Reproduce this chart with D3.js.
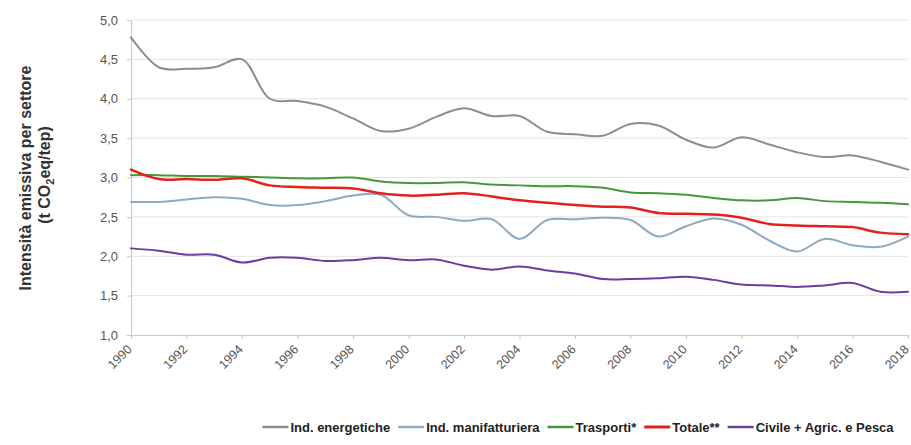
<!DOCTYPE html>
<html><head><meta charset="utf-8">
<script src="https://cdn.jsdelivr.net/npm/d3@7"></script>
<style>body{margin:0;background:#fff;} svg{display:block;font-family:"Liberation Sans",Arial,sans-serif;}</style>
</head><body><svg id="c" width="911" height="445"></svg>
<script>
const years = d3.range(1990, 2019);
const xTickYears = d3.range(1990, 2019, 2);
const yTicks = [1.0,1.5,2.0,2.5,3.0,3.5,4.0,4.5,5.0];
const energetiche = [4.78,4.40,4.38,4.40,4.50,4.00,3.97,3.90,3.75,3.59,3.62,3.77,3.88,3.78,3.78,3.58,3.55,3.53,3.68,3.66,3.48,3.38,3.51,3.42,3.32,3.26,3.28,3.20,3.10];
const manifatturiera = [2.69,2.69,2.72,2.75,2.73,2.65,2.65,2.70,2.77,2.78,2.52,2.50,2.45,2.47,2.22,2.46,2.47,2.49,2.46,2.25,2.38,2.48,2.40,2.20,2.06,2.22,2.14,2.12,2.25];
const trasporti = [3.03,3.03,3.02,3.02,3.01,3.00,2.99,2.99,3.00,2.95,2.93,2.93,2.94,2.91,2.90,2.89,2.89,2.87,2.81,2.80,2.78,2.74,2.71,2.71,2.74,2.70,2.69,2.68,2.66];
const totale = [3.10,2.98,2.98,2.97,2.99,2.90,2.88,2.87,2.86,2.80,2.77,2.78,2.80,2.76,2.71,2.68,2.65,2.63,2.62,2.55,2.54,2.53,2.49,2.41,2.39,2.38,2.37,2.30,2.28];
const civile = [2.10,2.07,2.02,2.02,1.92,1.98,1.98,1.94,1.95,1.98,1.95,1.96,1.88,1.83,1.87,1.82,1.78,1.71,1.71,1.72,1.74,1.70,1.64,1.63,1.61,1.63,1.66,1.55,1.55];
const seriesNames = ["Ind. energetiche","Ind. manifatturiera","Trasporti*","Totale**","Civile + Agric. e Pesca"];
const seriesData = [energetiche, manifatturiera, trasporti, totale, civile];
const colors = ["#8e8e8e","#8eaac0","#45993a","#e3221f","#6a3f9c"];
const widths = [2,2,2,2.5,2];

const svg = d3.select("#c");
const x = d3.scaleLinear().domain([1990,2018]).range([131,908]);
const y = d3.scaleLinear().domain([1,5]).range([335,20]);

// gridlines
svg.append("g").selectAll("line").data(yTicks.slice(1)).join("line")
  .attr("x1",131).attr("x2",908).attr("y1",d=>y(d)).attr("y2",d=>y(d))
  .attr("stroke","#e4e4e4").attr("stroke-width",1);

// y axis
const ya = svg.append("g").attr("transform","translate(131,0)")
  .call(d3.axisLeft(y).tickValues(yTicks).tickSize(4).tickPadding(9).tickFormat(d=>d3.format(".1f")(d).replace(".",",")));
ya.select(".domain").attr("stroke","#c8c8c8");
ya.selectAll(".tick line").attr("stroke","#c8c8c8");
ya.selectAll("text").attr("fill","#555").style("font-size","13px");

// x axis
const xa = svg.append("g").attr("transform","translate(0,335)")
  .call(d3.axisBottom(x).tickValues(xTickYears).tickSize(4).tickFormat(d3.format("d")));
xa.select(".domain").attr("stroke","#c8c8c8");
xa.selectAll(".tick line").attr("stroke","#c8c8c8");
xa.selectAll("text").attr("fill","#555").style("font-size","12.5px")
  .attr("x",0).attr("y",0).attr("dy","0.35em")
  .attr("text-anchor","end")
  .attr("transform","translate(-2,12) rotate(-45)");

// lines
const line = d3.line().x((d,i)=>x(years[i])).y(d=>y(d)).curve(d3.curveCatmullRom.alpha(0.5));
svg.append("g").selectAll("path").data(seriesData).join("path")
  .attr("d",d=>line(d)).attr("fill","none")
  .attr("stroke",(d,i)=>colors[i]).attr("stroke-width",(d,i)=>widths[i])
  .attr("stroke-linejoin","round").attr("stroke-linecap","round");

// y title
const t = svg.append("text").attr("transform","translate(31,178) rotate(-90)")
  .attr("text-anchor","middle").attr("fill","#333").style("font-weight","bold").style("font-size","16px");
t.append("tspan").attr("x",0).attr("dy",0).text("Intensità emissiva per settore");
const t2 = svg.append("text").attr("transform","translate(50,175) rotate(-90)")
  .attr("text-anchor","middle").attr("fill","#333").style("font-weight","bold").style("font-size","16px");
t2.append("tspan").text("(t CO");
t2.append("tspan").attr("dy",4).style("font-size","11px").text("2");
t2.append("tspan").attr("dy",-4).text("eq/tep)");

// legend
const lg = svg.append("g").attr("transform","translate(0,427)");
const items = lg.selectAll("g").data(seriesNames).join("g");
items.append("line").attr("x1",0).attr("x2",26).attr("y1",0).attr("y2",0)
  .attr("stroke",(d,i)=>colors[i]).attr("stroke-width",(d,i)=>widths[i]+0.5);
items.append("text").attr("x",28).attr("y",5).attr("fill","#222").style("font-weight","bold").style("font-size","13px").text(d=>d);
let cx = 0; const pos = [];
items.each(function(){ const w = this.querySelector("text").getComputedTextLength(); pos.push(cx); cx += 28 + w + 8; });
const total = cx - 8, start = 578 - total/2;
items.attr("transform",(d,i)=>`translate(${start+pos[i]},0)`);
</script></body></html>
